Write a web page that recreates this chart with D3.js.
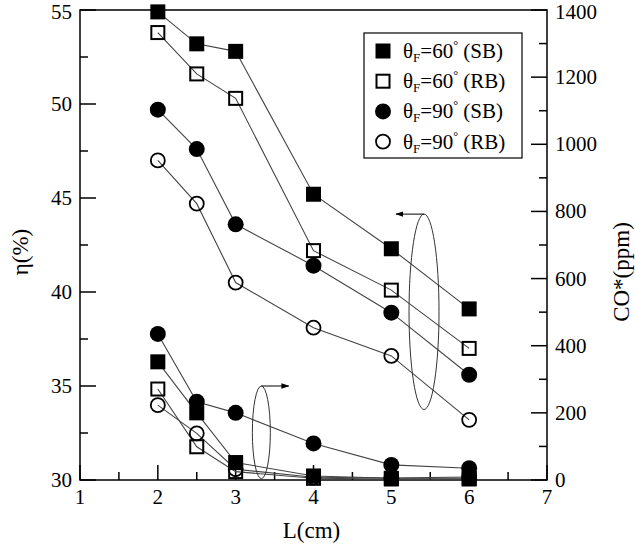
<!DOCTYPE html>
<html>
<head>
<meta charset="utf-8">
<script src="https://d3js.org/d3.v7.min.js"></script>
<style>
  body { margin: 0; background: #fff; }
  svg text { font-family: "Liberation Serif", "Times New Roman", Times, "DejaVu Serif", serif; fill: #000; }
</style>
</head>
<body>
<div id="viz"></div>
<script>
// L (cm) positions shared by every series
var lengths = [2, 2.5, 3, 4, 5, 6];

// efficiency eta (%) on the left axis
var etaSB60 = [54.9, 53.2, 52.8, 45.2, 42.3, 39.1];
var etaRB60 = [53.8, 51.6, 50.3, 42.2, 40.1, 37.0];
var etaSB90 = [49.7, 47.6, 43.6, 41.4, 38.9, 35.6];
var etaRB90 = [47.0, 44.7, 40.5, 38.1, 36.6, 33.2];

// CO* (ppm) on the right axis
var coSB60 = [352, 200, 52, 12, 5, 5];
var coRB60 = [271, 99, 25, 5, 3, 3];
var coSB90 = [435, 233, 200, 109, 45, 35];
var coRB90 = [223, 139, 32, 8, 6, 9];

var xTicks = [1, 2, 3, 4, 5, 6, 7];
var etaTicks = [30, 35, 40, 45, 50, 55];
var coTicks = [0, 200, 400, 600, 800, 1000, 1200, 1400];

var legendLabels = [
  { deg: "60", tag: "(SB)", shape: "square", filled: true },
  { deg: "60", tag: "(RB)", shape: "square", filled: false },
  { deg: "90", tag: "(SB)", shape: "circle", filled: true },
  { deg: "90", tag: "(RB)", shape: "circle", filled: false }
];

var W = 635, H = 551;
var margin = { left: 80, right: 88, top: 10, bottom: 71 };
var serif = "'Liberation Serif', 'Times New Roman', Times, 'DejaVu Serif', serif";

var svg = d3.select("#viz").append("svg")
  .attr("width", W).attr("height", H)
  .attr("font-family", serif);

var x = d3.scaleLinear().domain([1, 7]).range([margin.left, W - margin.right]);
var yEta = d3.scaleLinear().domain([30, 55]).range([H - margin.bottom, margin.top]);
var yCo = d3.scaleLinear().domain([0, 1400]).range([H - margin.bottom, margin.top]);

var x0 = x.range()[0], x1 = x.range()[1];
var yb = yEta.range()[0], yt = yEta.range()[1];

// frame
svg.append("rect")
  .attr("x", x0).attr("y", yt)
  .attr("width", x1 - x0).attr("height", yb - yt)
  .attr("fill", "none").attr("stroke", "#000").attr("stroke-width", 1.5);

// inward ticks
var ticks = svg.append("g").attr("stroke", "#000").attr("stroke-width", 1.5);
d3.range(1, 7.01, 0.5).forEach(function (v) {
  var len = Number.isInteger(v) ? 15 : 8;
  ticks.append("line").attr("x1", x(v)).attr("x2", x(v)).attr("y1", yb).attr("y2", yb - len);
});
d3.range(30, 55.01, 2.5).forEach(function (v) {
  var len = v % 5 === 0 ? 16 : 8;
  ticks.append("line").attr("x1", x0).attr("x2", x0 + len).attr("y1", yEta(v)).attr("y2", yEta(v));
});
d3.range(0, 1400.01, 100).forEach(function (v) {
  var len = v % 200 === 0 ? 16 : 8;
  ticks.append("line").attr("x1", x1).attr("x2", x1 - len).attr("y1", yCo(v)).attr("y2", yCo(v));
});

// tick labels (top ones kept inside the page)
svg.selectAll(".xl").data(xTicks).enter().append("text")
  .attr("x", function (d) { return x(d); }).attr("y", yb + 24)
  .attr("text-anchor", "middle").attr("font-size", 21).text(function (d) { return d; });
svg.selectAll(".yl").data(etaTicks).enter().append("text")
  .attr("x", x0 - 8).attr("y", function (d) { return Math.max(yEta(d) + 7, 19); })
  .attr("text-anchor", "end").attr("font-size", 21).text(function (d) { return d; });
svg.selectAll(".yr").data(coTicks).enter().append("text")
  .attr("x", x1 + 8).attr("y", function (d) { return Math.max(yCo(d) + 7, 19); })
  .attr("text-anchor", "start").attr("font-size", 21).text(function (d) { return d; });

// axis titles
svg.append("text").attr("x", (x0 + x1) / 2 - 2).attr("y", 538)
  .attr("text-anchor", "middle").attr("font-size", 23).text("L(cm)");
svg.append("text").attr("transform", "translate(28,252) rotate(-90)")
  .attr("text-anchor", "middle").attr("font-size", 23).text("η(%)");
svg.append("text").attr("transform", "translate(629,272) rotate(-90)")
  .attr("text-anchor", "middle").attr("font-size", 23).text("CO*(ppm)");

// series
var series = [
  { vals: etaSB60, y: yEta, shape: "square", filled: true },
  { vals: etaRB60, y: yEta, shape: "square", filled: false },
  { vals: etaSB90, y: yEta, shape: "circle", filled: true },
  { vals: etaRB90, y: yEta, shape: "circle", filled: false },
  { vals: coSB60, y: yCo, shape: "square", filled: true },
  { vals: coRB60, y: yCo, shape: "square", filled: false },
  { vals: coSB90, y: yCo, shape: "circle", filled: true },
  { vals: coRB90, y: yCo, shape: "circle", filled: false }
];

function marker(g, shape, filled, cx, cy) {
  if (shape === "square") {
    var s = filled ? 15 : 13;
    g.append("rect").attr("x", cx - s / 2).attr("y", cy - s / 2)
      .attr("width", s).attr("height", s)
      .attr("fill", filled ? "#000" : "none")
      .attr("stroke", "#000").attr("stroke-width", filled ? 0 : 2);
  } else {
    g.append("circle").attr("cx", cx).attr("cy", cy).attr("r", filled ? 8 : 7)
      .attr("fill", filled ? "#000" : "none")
      .attr("stroke", "#000").attr("stroke-width", filled ? 0 : 1.8);
  }
}

var line = d3.line();
series.forEach(function (s) {
  var pts = lengths.map(function (l, i) { return [x(l), s.y(s.vals[i])]; });
  svg.append("path").attr("d", line(pts))
    .attr("fill", "none").attr("stroke", "#444").attr("stroke-width", 1.1);
});
series.forEach(function (s) {
  var g = svg.append("g");
  lengths.forEach(function (l, i) { marker(g, s.shape, s.filled, x(l), s.y(s.vals[i])); });
});

// ellipses grouping the two families, with arrows to their axes
svg.append("defs").append("marker")
  .attr("id", "arrow").attr("viewBox", "0 0 10 10").attr("refX", 9).attr("refY", 5)
  .attr("markerWidth", 8).attr("markerHeight", 8).attr("orient", "auto-start-reverse")
  .append("path").attr("d", "M0,1.5L10,5L0,8.5Z").attr("fill", "#000");

var eUp = { cx: x(5.42), top: yCo(792), bot: yCo(210), rx: 15 };
svg.append("ellipse").attr("cx", eUp.cx).attr("cy", (eUp.top + eUp.bot) / 2)
  .attr("rx", eUp.rx).attr("ry", (eUp.bot - eUp.top) / 2)
  .attr("fill", "none").attr("stroke", "#333").attr("stroke-width", 1);
svg.append("line").attr("x1", eUp.cx).attr("y1", eUp.top).attr("x2", x(5.06)).attr("y2", eUp.top)
  .attr("stroke", "#000").attr("stroke-width", 1).attr("marker-end", "url(#arrow)");

var eLo = { cx: x(3.33), top: yCo(280), bot: yCo(4), rx: 9 };
svg.append("ellipse").attr("cx", eLo.cx).attr("cy", (eLo.top + eLo.bot) / 2)
  .attr("rx", eLo.rx).attr("ry", (eLo.bot - eLo.top) / 2)
  .attr("fill", "none").attr("stroke", "#333").attr("stroke-width", 1);
svg.append("line").attr("x1", eLo.cx).attr("y1", eLo.top).attr("x2", x(3.68)).attr("y2", eLo.top)
  .attr("stroke", "#000").attr("stroke-width", 1).attr("marker-end", "url(#arrow)");

// legend
var lg = svg.append("g").attr("transform", "translate(364,33)");
lg.append("rect").attr("width", 158).attr("height", 125)
  .attr("fill", "#fff").attr("stroke", "#000").attr("stroke-width", 1.2);
legendLabels.forEach(function (d, i) {
  var cy = 18 + i * 30.2;
  marker(lg, d.shape, d.filled, 19, cy);
  var t = lg.append("text").attr("x", 39).attr("y", cy + 7).attr("font-size", 21);
  t.append("tspan").text("θ");
  t.append("tspan").attr("font-size", 13).attr("dy", 4).text("F");
  t.append("tspan").attr("dy", -4).text("=" + d.deg);
  t.append("tspan").attr("font-size", 12).attr("dy", -9).text("°");
  t.append("tspan").attr("dy", 9).text(" " + d.tag);
});
</script>
</body>
</html>
